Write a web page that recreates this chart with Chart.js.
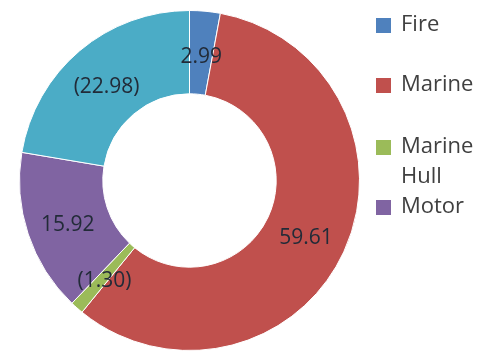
<!DOCTYPE html>
<html lang="en">
  <head>
    <meta charset="UTF-8" />
    <title>Doughnut</title>
    <script src="https://cdn.jsdelivr.net/npm/chart.js@4"></script>
    <style>
      body { margin: 0; background: #fff; }
    </style>
  </head>
  <body>
    <canvas id="myChart" width="483" height="356"></canvas>

    <script>
      const labels = ["Fire", "Marine", "Marine Hull", "Motor", "Others"];
      const values = [2.99, 59.61, -1.3, 15.92, -22.98];
      const colors = ["#4f81bd", "#c0504d", "#9bbb59", "#8064a2", "#4bacc6"];
      const legendCount = 4; // the last entry is cut off in the picture

      function fmt(v) {
        const s = Math.abs(v).toFixed(2);
        return v < 0 ? "(" + s + ")" : s;
      }

      // value labels in the middle of each ring segment
      const sliceLabels = {
        id: "sliceLabels",
        afterDatasetsDraw(chart) {
          const ctx = chart.ctx;
          const meta = chart.getDatasetMeta(0);
          ctx.save();
          ctx.font = "21px 'Open Sans'";
          ctx.fillStyle = "#222b38";
          ctx.textAlign = "center";
          ctx.textBaseline = "middle";
          meta.data.forEach((arc, i) => {
            const p = arc.tooltipPosition();
            ctx.fillText(fmt(values[i]), p.x, p.y + 4);
          });
          ctx.restore();
        },
      };

      // legend on the right, "Marine Hull" wraps onto two lines
      const sideLegend = {
        id: "sideLegend",
        afterDraw(chart) {
          const ctx = chart.ctx;
          const rows = [25, 85, 147, 207];
          ctx.save();
          ctx.font = "22px 'Open Sans'";
          ctx.textBaseline = "middle";
          for (let i = 0; i < legendCount; i++) {
            const y = rows[i];
            ctx.fillStyle = colors[i];
            ctx.fillRect(376, y - 7, 15, 15);
            ctx.fillStyle = "#404040";
            const words = labels[i].split(" ");
            words.forEach((w, k) => ctx.fillText(w, 401, y + k * 30));
          }
          ctx.restore();
        },
      };

      const ctx = document.getElementById("myChart").getContext("2d");
      const myChart = new Chart(ctx, {
        type: "doughnut",
        data: {
          labels: labels,
          datasets: [
            {
              data: values.map((v) => Math.abs(v)),
              backgroundColor: colors,
              borderColor: "#ffffff",
              borderWidth: 1,
            },
          ],
        },
        options: {
          responsive: false,
          animation: false,
          cutout: "51%",
          layout: { padding: { left: 19, right: 123, top: 10, bottom: 5 } },
          plugins: {
            legend: { display: false },
            tooltip: { enabled: false },
          },
        },
        plugins: [sliceLabels, sideLegend],
      });
    </script>
  </body>
</html>
